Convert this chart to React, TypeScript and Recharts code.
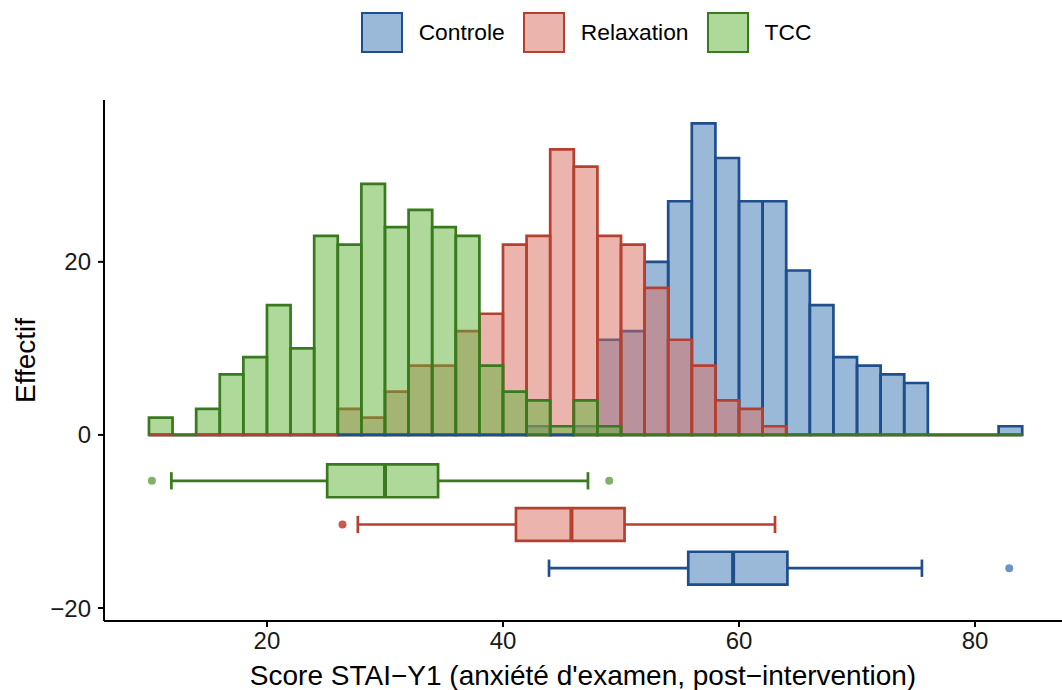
import React from "react";
import {
  ComposedChart,
  XAxis,
  YAxis,
  ReferenceArea,
  ReferenceLine,
  Scatter,
  Legend,
} from "recharts";

// histogram bins (lower edge), width 2
const BIN_START = [
  10, 12, 14, 16, 18, 20, 22, 24, 26, 28, 30, 32, 34, 36, 38, 40, 42, 44, 46,
  48, 50, 52, 54, 56, 58, 60, 62, 64, 66, 68, 70, 72, 74, 76, 78, 80, 82,
];
const BIN_WIDTH = 2;

const CONTROLE_COUNTS = [
  0, 0, 0, 0, 0, 0, 0, 0, 0, 0, 0, 0, 0, 0, 0, 0, 1, 0, 1, 11, 12, 20, 27, 36,
  32, 27, 27, 19, 15, 9, 8, 7, 6, 0, 0, 0, 1,
];
const RELAXATION_COUNTS = [
  0, 0, 0, 0, 0, 0, 0, 0, 3, 2, 5, 8, 8, 12, 14, 22, 23, 33, 31, 23, 22, 17, 11,
  8, 4, 3, 1, 0, 0, 0, 0, 0, 0, 0, 0, 0, 0,
];
const TCC_COUNTS = [
  2, 0, 3, 7, 9, 15, 10, 23, 22, 29, 24, 26, 24, 23, 8, 5, 4, 1, 4, 1, 0, 0, 0,
  0, 0, 0, 0, 0, 0, 0, 0, 0, 0, 0, 0, 0, 0,
];

// boxplot stats: lower whisker, Q1, median, Q3, upper whisker
const CONTROLE_BOX = [43.9, 55.7, 59.5, 64.1, 75.5];
const RELAXATION_BOX = [27.7, 41.1, 45.8, 50.3, 63.05];
const TCC_BOX = [11.9, 25.1, 30.0, 34.5, 47.2];

const CONTROLE_OUTLIERS = [82.9];
const RELAXATION_OUTLIERS = [26.4];
const TCC_OUTLIERS = [10.25, 49.0];

const GROUP_NAMES = ["Controle", "Relaxation", "TCC"];
const X_TICKS = [20, 40, 60, 80];
const Y_TICKS = [-20, 0, 20];

// where each boxplot row sits on the y axis
const BOX_ROW_Y = [-15.4, -10.35, -5.3];
const BOX_HALF = 1.9;
const CAP_HALF = 1.0;

const FONT = "'Liberation Sans', Arial, Helvetica, sans-serif";
const LW = 2.7;

const groups = [
  {
    name: GROUP_NAMES[0],
    counts: CONTROLE_COUNTS,
    box: CONTROLE_BOX,
    outliers: CONTROLE_OUTLIERS,
    row: BOX_ROW_Y[0],
    fill: "#3573B3",
    stroke: "#1F4E8C",
    dot: "#6D95C4",
  },
  {
    name: GROUP_NAMES[1],
    counts: RELAXATION_COUNTS,
    box: RELAXATION_BOX,
    outliers: RELAXATION_OUTLIERS,
    row: BOX_ROW_Y[1],
    fill: "#D76B5D",
    stroke: "#B5402F",
    dot: "#C85A4C",
  },
  {
    name: GROUP_NAMES[2],
    counts: TCC_COUNTS,
    box: TCC_BOX,
    outliers: TCC_OUTLIERS,
    row: BOX_ROW_Y[2],
    fill: "#5DB337",
    stroke: "#3A7A1F",
    dot: "#7FB16A",
  },
];

const fmt = (v: number) => (v < 0 ? `\u2212${Math.abs(v)}` : `${v}`);

const YTitle = ({ viewBox }: any) => {
  const x = viewBox.x + 25;
  const y = viewBox.y + viewBox.height / 2;
  return (
    <text
      x={x}
      y={y}
      transform={`rotate(-90, ${x}, ${y})`}
      textAnchor="middle"
      dominantBaseline="central"
      fontSize={28}
      fontFamily={FONT}
      fill="#000"
    >
      Effectif
    </text>
  );
};

const XTitle = ({ viewBox }: any) => (
  <text
    x={viewBox.x + viewBox.width / 2}
    y={685}
    textAnchor="middle"
    fontSize={28}
    fontFamily={FONT}
    fill="#000"
  >
    Score STAI{"\u2212"}Y1 (anxiété d'examen, post{"\u2212"}intervention)
  </text>
);

const LegendContent = () => (
  <div
    style={{
      display: "flex",
      justifyContent: "center",
      alignItems: "center",
      fontFamily: FONT,
      fontSize: 22.8,
      color: "#000",
    }}
  >
    {groups.map((g) => (
      <div
        key={g.name}
        style={{ display: "flex", alignItems: "center", marginRight: 18 }}
      >
        <div
          style={{
            width: 42,
            height: 41,
            boxSizing: "border-box",
            border: `2.7px solid ${g.stroke}`,
            background: g.fill + "80",
            marginRight: 16,
          }}
        />
        <span>{g.name}</span>
      </div>
    ))}
  </div>
);

export default function App() {
  return (
    <div style={{ position: "absolute", left: 0, top: 0 }}>
      <ComposedChart
        width={1062}
        height={690}
        margin={{ top: 100, right: 0, bottom: 0, left: 0 }}
      >
        <XAxis
          type="number"
          dataKey="x"
          domain={[6.19, 87.37]}
          ticks={X_TICKS}
          tickSize={6}
          tickMargin={5}
          height={69}
          axisLine={{ stroke: "#000", strokeWidth: 2 }}
          tickLine={{ stroke: "#000", strokeWidth: 2 }}
          tick={{ fill: "#1A1A1A", fontSize: 24, fontFamily: FONT }}
          label={XTitle}
        />
        <YAxis
          type="number"
          dataKey="y"
          domain={[-21.5, 38.7]}
          ticks={Y_TICKS}
          tickFormatter={fmt}
          tickSize={6}
          tickMargin={7}
          width={104}
          axisLine={{ stroke: "#000", strokeWidth: 2 }}
          tickLine={{ stroke: "#000", strokeWidth: 2 }}
          tick={{ fill: "#1A1A1A", fontSize: 24, fontFamily: FONT }}
          label={YTitle}
        />
        <Legend
          verticalAlign="middle"
          align="center"
          layout="horizontal"
          wrapperStyle={{ top: 12, left: 116, width: 958 }}
          content={LegendContent}
        />

        {groups.map((g) =>
          BIN_START.map((b, i) =>
            g.counts[i] > 0 ? (
              <ReferenceArea
                key={`${g.name}-bar-${b}`}
                x1={b}
                x2={b + BIN_WIDTH}
                y1={0}
                y2={g.counts[i]}
                fill={g.fill}
                fillOpacity={0.5}
                stroke={g.stroke}
                strokeWidth={LW}
              />
            ) : null
          )
        )}
        {groups.map((g) =>
          BIN_START.map((b, i) =>
            g.counts[i] === 0 ? (
              <ReferenceLine
                key={`${g.name}-zero-${b}`}
                segment={[
                  { x: b, y: 0 },
                  { x: b + BIN_WIDTH, y: 0 },
                ]}
                stroke={g.stroke}
                strokeWidth={LW}
              />
            ) : null
          )
        )}

        {groups.map((g) => (
          <ReferenceLine
            key={`${g.name}-wlo`}
            segment={[
              { x: g.box[0], y: g.row },
              { x: g.box[1], y: g.row },
            ]}
            stroke={g.stroke}
            strokeWidth={LW}
          />
        ))}
        {groups.map((g) => (
          <ReferenceLine
            key={`${g.name}-whi`}
            segment={[
              { x: g.box[3], y: g.row },
              { x: g.box[4], y: g.row },
            ]}
            stroke={g.stroke}
            strokeWidth={LW}
          />
        ))}
        {groups.map((g) => (
          <ReferenceLine
            key={`${g.name}-caplo`}
            segment={[
              { x: g.box[0], y: g.row - CAP_HALF },
              { x: g.box[0], y: g.row + CAP_HALF },
            ]}
            stroke={g.stroke}
            strokeWidth={LW}
          />
        ))}
        {groups.map((g) => (
          <ReferenceLine
            key={`${g.name}-caphi`}
            segment={[
              { x: g.box[4], y: g.row - CAP_HALF },
              { x: g.box[4], y: g.row + CAP_HALF },
            ]}
            stroke={g.stroke}
            strokeWidth={LW}
          />
        ))}
        {groups.map((g) => (
          <ReferenceArea
            key={`${g.name}-box`}
            x1={g.box[1]}
            x2={g.box[3]}
            y1={g.row - BOX_HALF}
            y2={g.row + BOX_HALF}
            fill={g.fill}
            fillOpacity={0.5}
            stroke={g.stroke}
            strokeWidth={LW}
          />
        ))}
        {groups.map((g) => (
          <ReferenceLine
            key={`${g.name}-med`}
            segment={[
              { x: g.box[2], y: g.row - BOX_HALF },
              { x: g.box[2], y: g.row + BOX_HALF },
            ]}
            stroke={g.stroke}
            strokeWidth={4}
          />
        ))}
        {groups.map((g) => (
          <Scatter
            key={`${g.name}-out`}
            data={g.outliers.map((v) => ({ x: v, y: g.row }))}
            isAnimationActive={false}
            shape={(p: any) => (
              <circle cx={p.cx} cy={p.cy} r={4} fill={g.dot} />
            )}
          />
        ))}
      </ComposedChart>
    </div>
  );
}
